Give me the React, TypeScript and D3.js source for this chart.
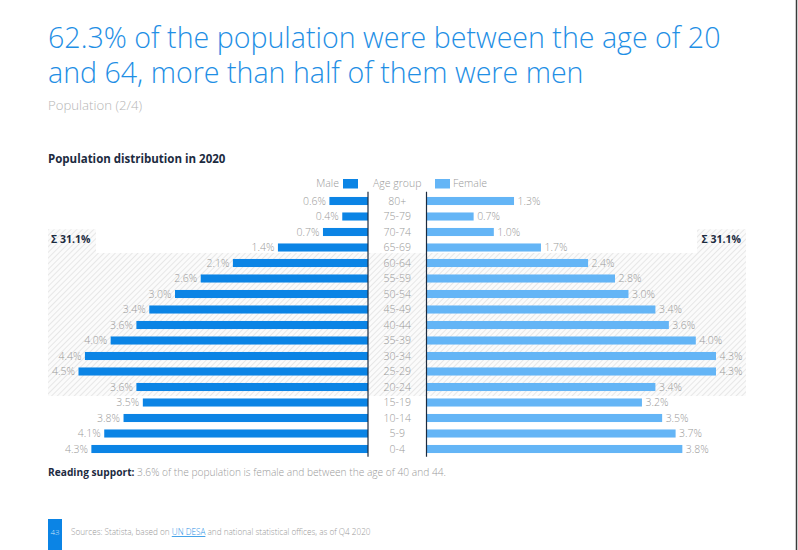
import React from "react";
import * as d3 from "d3";

const ageGroups = ["80+", "75-79", "70-74", "65-69", "60-64", "55-59", "50-54", "45-49", "40-44", "35-39", "30-34", "25-29", "20-24", "15-19", "10-14", "5-9", "0-4"];
const maleValues = [0.6, 0.4, 0.7, 1.4, 2.1, 2.6, 3.0, 3.4, 3.6, 4.0, 4.4, 4.5, 3.6, 3.5, 3.8, 4.1, 4.3];
const femaleValues = [1.3, 0.7, 1.0, 1.7, 2.4, 2.8, 3.0, 3.4, 3.6, 4.0, 4.3, 4.3, 3.4, 3.2, 3.5, 3.7, 3.8];
const highlightFrom = "60-64";
const highlightTo = "20-24";
const sumLeft = "Σ 31.1%";
const sumRight = "Σ 31.1%";

const FONT = "'Open Sans', 'Noto Sans', sans-serif";
const MALE = "#0b84e5";
const FEMALE = "#64b5f6";
const NAVY = "#1c2b3f";
const GRAY = "#9a9a9a";

export default function App() {
  const W = 798, H = 550;
  const maleAxisX = 368;
  const femaleAxisX = 426.5;
  const barMax = 289.5;

  const y = d3.scaleBand<string>().domain(ageGroups).range([193.25, 456.75]).paddingInner(0.48).paddingOuter(0.24);
  const xMale = d3.scaleLinear().domain([0, d3.max(maleValues) as number]).range([0, barMax]);
  const xFemale = d3.scaleLinear().domain([0, d3.max(femaleValues) as number]).range([0, barMax]);
  const bh = y.bandwidth();
  const centerX = (maleAxisX + femaleAxisX) / 2;

  const hTop = (y(highlightFrom) as number) - 6;
  const hBottom = (y(highlightTo) as number) + bh + 5;
  const fmt = (v: number) => v.toFixed(1) + "%";

  return (
    <svg width={W} height={H} style={{ position: "absolute", left: 0, top: 0, display: "block", background: "#fff" }} fontFamily={FONT}>
      <defs>
        <pattern id="hatch" patternUnits="userSpaceOnUse" width="4" height="4" patternTransform="rotate(45)">
          <rect width="4" height="4" fill="#fbfbfb" />
          <line x1="0" y1="0" x2="0" y2="4" stroke="#e2e2e2" strokeWidth="1.6" />
        </pattern>
      </defs>
      <rect x={0} y={0} width={W} height={H} fill="#fff" />
      <line x1={796.5} y1={0} x2={796.5} y2={H} stroke="#3a3a3a" strokeWidth={1.5} />

      {/* Title */}
      <text x={48} y={48} fontSize={28.6} fontWeight={300} fill="#1f8fe5">62.3% of the population were between the age of 20</text>
      <text x={48} y={83} fontSize={28.6} fontWeight={300} fill="#1f8fe5">and 64, more than half of them were men</text>
      <text x={48} y={110} fontSize={13.2} fontWeight={300} fill="#b5b5b5">Population (2/4)</text>
      <text x={48} y={163} fontSize={11.5} fontWeight={700} fill={NAVY}>Population distribution in 2020</text>

      {/* Highlight region */}
      <rect x={48} y={hTop} width={746 - 48} height={hBottom - hTop} fill="url(#hatch)" />
      <rect x={48} y={229.3} width={48} height={hTop - 229.3} fill="url(#hatch)" />
      <rect x={697} y={229.3} width={49} height={hTop - 229.3} fill="url(#hatch)" />
      <text x={51} y={243} fontSize={10.5} fontWeight={700} fill={NAVY}>{sumLeft}</text>
      <text x={741} y={243} fontSize={10.5} fontWeight={700} fill={NAVY} textAnchor="end">{sumRight}</text>

      {/* Legend */}
      <text x={339} y={187} fontSize={10.5} fontWeight={300} fill={GRAY} textAnchor="end">Male</text>
      <rect x={343} y={179} width={15} height={9.5} fill={MALE} />
      <text x={centerX} y={187} fontSize={10.5} fontWeight={300} fill={GRAY} textAnchor="middle">Age group</text>
      <rect x={435} y={179} width={15} height={9.5} fill={FEMALE} />
      <text x={453} y={187} fontSize={10.5} fontWeight={300} fill={GRAY}>Female</text>

      {/* Bars */}
      {ageGroups.map((g, i) => {
        const yy = y(g) as number;
        const mw = xMale(maleValues[i]);
        const fw = xFemale(femaleValues[i]);
        return (
          <g key={g}>
            <rect x={maleAxisX - mw} y={yy} width={mw} height={bh} fill={MALE} />
            <text x={maleAxisX - mw - 3.5} y={yy + bh / 2} dy="0.36em" fontSize={10.5} fontWeight={300} fill={GRAY} textAnchor="end">{fmt(maleValues[i])}</text>
            <text x={centerX} y={yy + bh / 2} dy="0.36em" fontSize={10.5} fontWeight={300} fill={GRAY} textAnchor="middle">{g}</text>
            <rect x={femaleAxisX} y={yy} width={fw} height={bh} fill={FEMALE} />
            <text x={femaleAxisX + fw + 3.5} y={yy + bh / 2} dy="0.36em" fontSize={10.5} fontWeight={300} fill={GRAY}>{fmt(femaleValues[i])}</text>
          </g>
        );
      })}
      <line x1={maleAxisX} y1={191.7} x2={maleAxisX} y2={456.7} stroke={NAVY} strokeWidth={1.2} />
      <line x1={femaleAxisX} y1={191.7} x2={femaleAxisX} y2={456.7} stroke={NAVY} strokeWidth={1.2} />

      {/* Reading support */}
      <text x={48} y={476} fontSize={10.2} fill={GRAY}>
        <tspan fontWeight={700} fill={NAVY}>Reading support:</tspan>
        <tspan fontWeight={300}> 3.6% of the population is female and between the age of 40 and 44.</tspan>
      </text>

      {/* Footer */}
      <rect x={48} y={519} width={14} height={31} fill={MALE} />
      <text x={55} y={535} fontSize={8} fill="#cfe6fb" textAnchor="middle" fontWeight={300}>43</text>
      <text x={71} y={535} fontSize={8.2} fontWeight={300} fill={GRAY}>
        <tspan>Sources: Statista, based on </tspan>
        <tspan fill="#1f8fe5" textDecoration="underline">UN DESA</tspan>
        <tspan> and national statistical offices, as of Q4 2020</tspan>
      </text>
    </svg>
  );
}
